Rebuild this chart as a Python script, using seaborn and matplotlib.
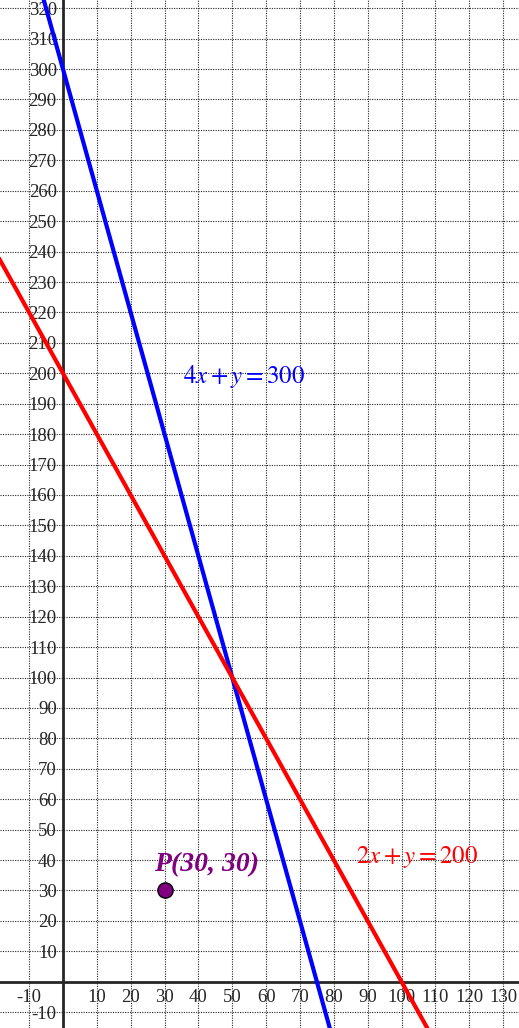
import numpy as np
import seaborn as sns
import matplotlib.pyplot as plt

# lines a*x + y = c
eq_labels = [r'$4x+y=300$', r'$2x+y=200$']
coef_a = [4, 2]
coef_c = [300, 200]
line_colors = ['#0000ff', '#ff0000']
label_pos = [(35.5, 199), (86.5, 41)]

# point P
px = [30]
py = [30]
p_label = 'P(30, 30)'

x_ticks = list(range(-10, 140, 10))
y_ticks = list(range(-10, 330, 10))
x_ticks.remove(0)
y_ticks.remove(0)

sns.set_style('white')
plt.rcParams['font.family'] = ['Liberation Serif', 'DejaVu Serif']
plt.rcParams['mathtext.fontset'] = 'stix'

fig = plt.figure(figsize=(5.19, 10.28), dpi=100)
ax = fig.add_axes([0, 0, 1, 1])
ax.set_xlim(-18.6, 134.7)
ax.set_ylim(-15.2, 322.7)

# dotted grid every 10
for v in x_ticks:
    ax.axvline(v, color='#222222', lw=0.8, ls=(0, (1, 1.2)), zorder=1)
for v in y_ticks:
    ax.axhline(v, color='#222222', lw=0.8, ls=(0, (1, 1.2)), zorder=1)

# axes through origin
for s in ['top', 'right']:
    ax.spines[s].set_visible(False)
ax.spines['left'].set_position(('data', 0))
ax.spines['bottom'].set_position(('data', 0))
ax.spines['left'].set_linewidth(2)
ax.spines['bottom'].set_linewidth(2)
ax.spines['left'].set_zorder(2)
ax.spines['bottom'].set_zorder(2)

ax.set_xticks(x_ticks)
ax.set_yticks(y_ticks)
ax.set_xticklabels([str(t) for t in x_ticks])
ax.set_yticklabels([str(t) for t in y_ticks])
ax.tick_params(axis='both', direction='inout', length=9, width=1.5,
               labelsize=13.5, pad=0, color='black')
ax.tick_params(axis='x', pad=1)

xs = np.array([-20, 140])
for a, c, col, lab, pos in zip(coef_a, coef_c, line_colors, eq_labels, label_pos):
    sns.lineplot(x=xs, y=c - a * xs, color=col, lw=3, ax=ax, zorder=3)
    ax.text(pos[0], pos[1], lab, color=col, fontsize=18, va='center', ha='left')

sns.scatterplot(x=px, y=py, color='#800080', edgecolor='black', s=120,
                linewidth=1, ax=ax, zorder=4)
ax.text(px[0] + 12.5, py[0] + 8.5, p_label, color='#800080', fontsize=20,
        fontweight='bold', fontstyle='italic', ha='center', va='center')

ax.set_xlabel('')
ax.set_ylabel('')
fig.savefig('out.png', dpi=100)
